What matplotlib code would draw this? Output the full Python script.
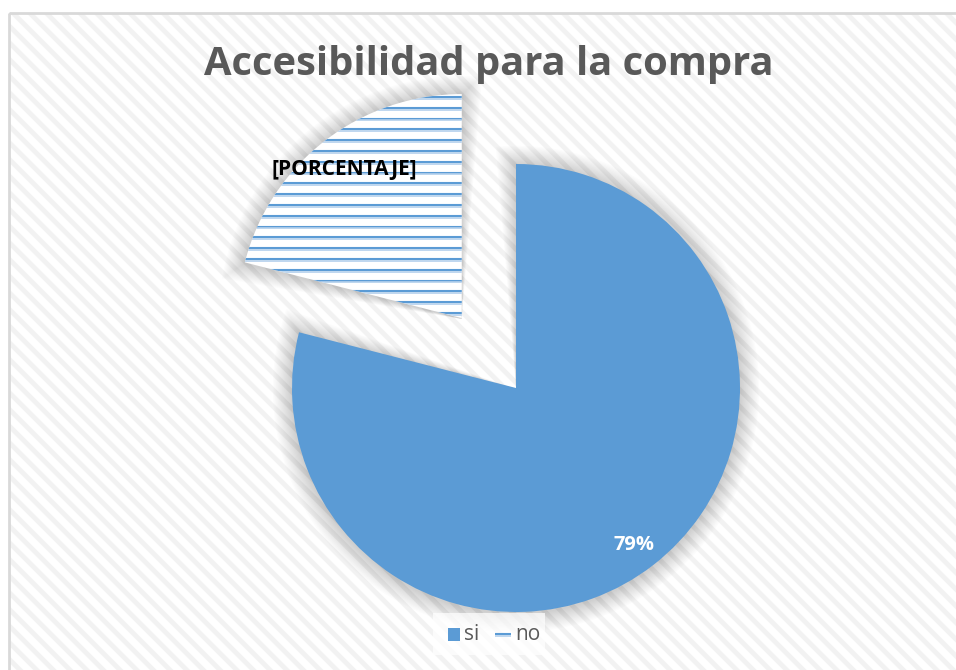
import matplotlib.pyplot as plt
import numpy as np
from matplotlib.patches import Rectangle, Wedge

# data
labels = ["si", "no"]
values = [79, 21]
label_texts = ["79%", "[PORCENTAJE]"]
title = "Accesibilidad para la compra"

blue = "#5B9BD5"
light_blue = "#B4D0EC"
grey_text = "#595959"

plt.rcParams["font.family"] = ["Open Sans", "DejaVu Sans"]
plt.rcParams["hatch.linewidth"] = 3.5

fig = plt.figure(figsize=(9.56, 6.70), dpi=100)

ax = fig.add_axes([0, 0, 1, 1])
ax.set_xlim(0, 956)
ax.set_ylim(670, 0)
ax.set_aspect("equal")
ax.axis("off")

# background with diagonal stripes and thin border
ax.add_patch(Rectangle((9, 13), 960, 670, facecolor="white", edgecolor="#F2F2F2",
                       linewidth=0, hatch="\\\\", zorder=0))
ax.add_patch(Rectangle((9, 13), 960, 670, facecolor="none", edgecolor="#D9D9D9",
                       linewidth=2, zorder=0.5))

center = (516, 388)
radius = 224
explode = [0.0, 0.395]
start = 90.0

# wedges going clockwise from the top
total = sum(values)
angles = []
a = start
for v in values:
    sweep = 360.0 * v / total
    angles.append((a - sweep, a))
    a -= sweep

wedges = []
for i, (t1, t2) in enumerate(angles):
    mid = np.deg2rad((t1 + t2) / 2)
    off = explode[i] * radius
    cx = center[0] + off * np.cos(mid)
    cy = center[1] - off * np.sin(mid)
    # y axis is inverted, so mirror the angles
    th1, th2 = -t2, -t1
    # soft shadow
    for k in range(16, 0, -1):
        sh = Wedge((cx, cy + 1), radius + k * 1.2, th1 - k * 0.3, th2 + k * 0.3,
                   facecolor="#000000", alpha=0.011, linewidth=0, zorder=1)
        ax.add_patch(sh)
    w = Wedge((cx, cy), radius, th1, th2, facecolor=blue if i == 0 else "white",
              edgecolor="none", zorder=2)
    ax.add_patch(w)
    wedges.append((w, cx, cy, mid))

# horizontal line pattern on the "no" slice
w_no, cx, cy, mid = wedges[1]
for yy in np.arange(cy - radius + 3, cy + 2, 10.8):
    ln, = ax.plot([cx - radius, cx + 2], [yy, yy], color=blue, lw=1.5,
                  solid_capstyle="butt", zorder=3)
    ln.set_clip_path(w_no)
    ln2, = ax.plot([cx - radius, cx + 2], [yy + 1.8, yy + 1.8], color=light_blue,
                   lw=1.2, solid_capstyle="butt", zorder=3)
    ln2.set_clip_path(w_no)

# data labels
ax.text(634, 545, label_texts[0], color="white", fontsize=14.5, fontweight="bold",
        ha="center", va="center", zorder=5)
ax.text(344, 170, label_texts[1], color="black", fontsize=15, fontweight="bold",
        ha="center", va="center", zorder=5)

# title
ax.text(489, 64, title, color=grey_text, fontsize=28.7, fontweight="bold",
        ha="center", va="center", zorder=5)

# legend
ax.add_patch(Rectangle((433, 613), 112, 42, facecolor="white", edgecolor="none",
                       alpha=0.7, zorder=4))
ax.add_patch(Rectangle((448, 628), 12, 13, facecolor=blue, edgecolor="none", zorder=5))
ax.text(464, 634, labels[0], color=grey_text, fontsize=15, ha="left", va="center", zorder=5)
ax.plot([495, 511], [634, 634], color=blue, lw=1.5, solid_capstyle="butt", zorder=5)
ax.plot([495, 511], [636, 636], color=light_blue, lw=1.2, solid_capstyle="butt", zorder=5)
ax.text(515, 634, labels[1], color=grey_text, fontsize=15, ha="left", va="center", zorder=5)

fig.savefig("out.png", dpi=100)
